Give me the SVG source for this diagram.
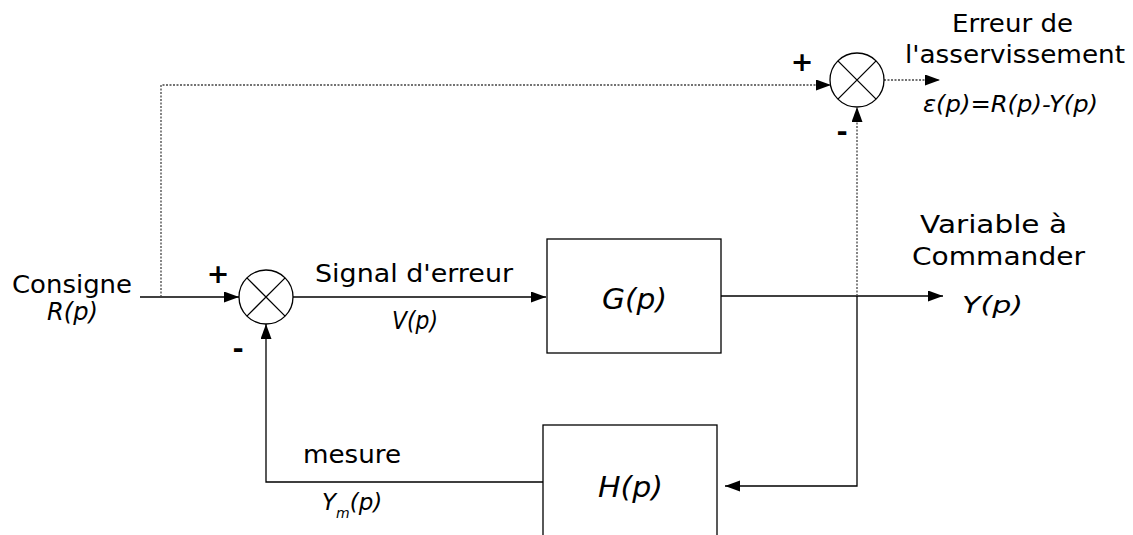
<svg xmlns="http://www.w3.org/2000/svg" width="1133" height="535" viewBox="0 0 1133 535">
<style>
.t{font-family:"DejaVu Sans",Verdana,sans-serif;font-size:25px;fill:#000}
.i{font-style:italic}
.b{font-weight:bold}
.ln{fill:none;stroke:#000;stroke-width:1.3}
.dt{fill:none;stroke:#444;stroke-width:1.3;stroke-dasharray:2,1.5}
.bx{fill:#fff;stroke:#000;stroke-width:1.3}
</style>
<defs>
<marker id="ar" markerUnits="userSpaceOnUse" markerWidth="16" markerHeight="12" refX="15" refY="5.5" orient="auto">
<path d="M0,0 L15,5.5 L0,11 z" fill="#000"/>
</marker>
</defs>
<g id="connectors">
<path class="ln" d="M140,297 L239,297" marker-end="url(#ar)"/>
<path class="ln" d="M293,297 L546,297" marker-end="url(#ar)"/>
<path class="ln" d="M721,296 L943,296" marker-end="url(#ar)"/>
<path class="ln" d="M857,296 L857,486 L725,486" marker-end="url(#ar)"/>
<path class="ln" d="M543,482 L266,482 L266,324" marker-end="url(#ar)"/>
<path class="dt" d="M161,297 L161,85 L831,85" marker-end="url(#ar)"/>
<path class="dt" d="M857,296 L857,107" marker-end="url(#ar)"/>
<path class="dt" d="M884,80 L940,80" marker-end="url(#ar)"/>
</g>
<g id="sum1">
<circle cx="266" cy="297" r="27" class="bx"/>
<path class="ln" d="M246.9,277.9 L285.1,316.1 M285.1,277.9 L246.9,316.1"/>
<text class="t b" x="218" y="283" text-anchor="middle" style="font-size:27px">+</text>
<text class="t b" x="238" y="358" text-anchor="middle" style="font-size:27px">-</text>
</g>
<g id="sum2">
<circle cx="857" cy="80" r="27" class="bx"/>
<path class="ln" d="M837.9,60.9 L876.1,99.1 M876.1,60.9 L837.9,99.1"/>
<text class="t b" x="802" y="71" text-anchor="middle" style="font-size:27px">+</text>
<text class="t b" x="842" y="141" text-anchor="middle" style="font-size:27px">-</text>
</g>
<g id="G">
<rect x="547" y="239" width="174" height="114" class="bx"/>
<text class="t i" x="602" y="309" style="font-size:29px" textLength="65" lengthAdjust="spacingAndGlyphs">G(p)</text>
</g>
<g id="H">
<rect x="543" y="425" width="174" height="130" class="bx"/>
<text class="t i" x="598" y="497" style="font-size:29px" textLength="65" lengthAdjust="spacingAndGlyphs">H(p)</text>
</g>
<g id="labels">
<text class="t" x="12" y="293" textLength="120" lengthAdjust="spacingAndGlyphs">Consigne</text>
<text class="t i" x="47" y="320" textLength="51" lengthAdjust="spacingAndGlyphs">R(p)</text>
<text class="t" x="315" y="282" textLength="198" lengthAdjust="spacingAndGlyphs">Signal d'erreur</text>
<text class="t i" x="392" y="329" textLength="46" lengthAdjust="spacingAndGlyphs">V(p)</text>
<text class="t" x="303" y="463" textLength="98" lengthAdjust="spacingAndGlyphs">mesure</text>
<text class="t i" x="322" y="510" style="font-size:23px">Y<tspan style="font-size:14px" dy="8">m</tspan><tspan dy="-8">(p)</tspan></text>
<text class="t" x="920" y="233" textLength="147" lengthAdjust="spacingAndGlyphs">Variable à</text>
<text class="t" x="912" y="265" textLength="173" lengthAdjust="spacingAndGlyphs">Commander</text>
<text class="t i" x="962" y="313" style="font-size:23px" textLength="61" lengthAdjust="spacingAndGlyphs">Y(p)</text>
<text class="t" x="952" y="32" textLength="121" lengthAdjust="spacingAndGlyphs">Erreur de</text>
<text class="t" x="905" y="63" textLength="220" lengthAdjust="spacingAndGlyphs">l'asservissement</text>
<text class="t i" x="923" y="112" style="font-size:23px" textLength="175" lengthAdjust="spacingAndGlyphs">ε(p)=R(p)-Y(p)</text>
</g>
</svg>
